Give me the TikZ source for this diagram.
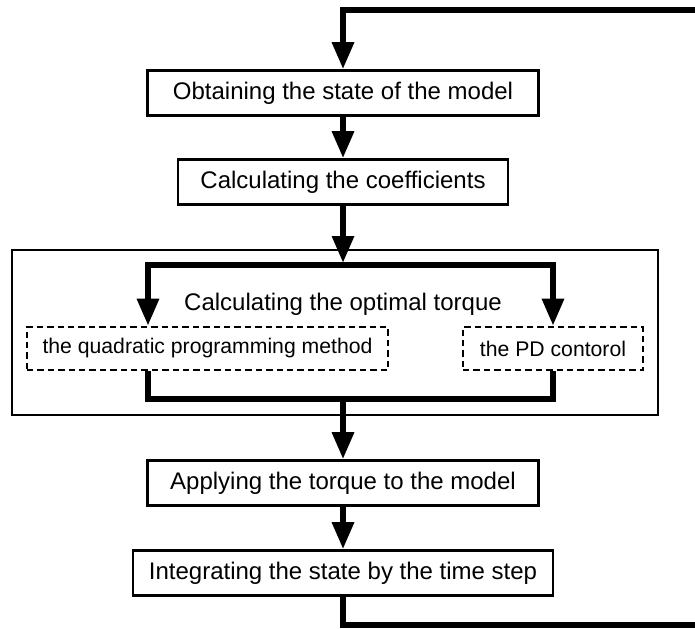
\documentclass[tikz,border=0pt]{standalone}
\usepackage{fontspec}
\setmainfont{Liberation Sans}
\usetikzlibrary{arrows.meta}

\begin{document}
\begin{tikzpicture}[x=0.5pt,y=-0.5pt,
	box/.style={draw,line width=1.3pt,minimum height=22.5pt,font=\fontsize{12}{14}\selectfont},
	dbox/.style={draw,dash pattern=on 3.2pt off 2pt,line width=1.3pt,minimum height=21.5pt,font=\fontsize{10.6}{12}\selectfont},
	flow/.style={line width=3pt},
	>={Triangle[length=13.5pt,width=10.5pt]}]
	\useasboundingbox (0,0) rectangle (695,628);
	\clip (0,0) rectangle (695,628);
	\node[box,minimum width=195.5pt] (1) at (343,93) {Obtaining the state of the model};
	\node[box,minimum width=165pt] (2) at (343,182) {Calculating the coefficients};
	\node[draw,line width=1.3pt,minimum width=323pt,minimum height=82.5pt] (3) at (335,332.5) {};
	\node[anchor=base,font=\fontsize{12}{14}\selectfont] (t) at (343,310) {Calculating the optimal torque};
	\node[dbox,minimum width=180.5pt] (4) at (207.5,348.5) {the quadratic programming method};
	\node[dbox,minimum width=90pt] (5) at (553,348.5) {the PD contorol};
	\node[box,minimum width=195.5pt] (6) at (343,483) {Applying the torque to the model};
	\node[box,minimum width=210pt] (7) at (343,573) {Integrating the state by the time step};
	%
	\coordinate (a) at (710,625);
	\coordinate (b) at (710,10);
	\coordinate (c) at (343,263);
	\coordinate (l) at (148,265);
	\coordinate (r) at (553,265);
	\coordinate (m) at (343,399);
	%
	\draw [flow,->] (7) -- (7 |- a) -- (a) -- (b) -- (b -| 1) -- (1);
	\draw [flow,->] (1) -- (2);
	\draw [flow,->] (2) -- (c);
	\draw [flow,<->] (l |- 4.north) -- (l) -- (r) -- (5);
	\draw [flow] (l |- 4.south) -- (l |- m) -- (r |- m) -- (5);
	\draw [flow,->] (m) -- (6);
	\draw [flow,->] (6) -- (7);
\end{tikzpicture}
\end{document}
